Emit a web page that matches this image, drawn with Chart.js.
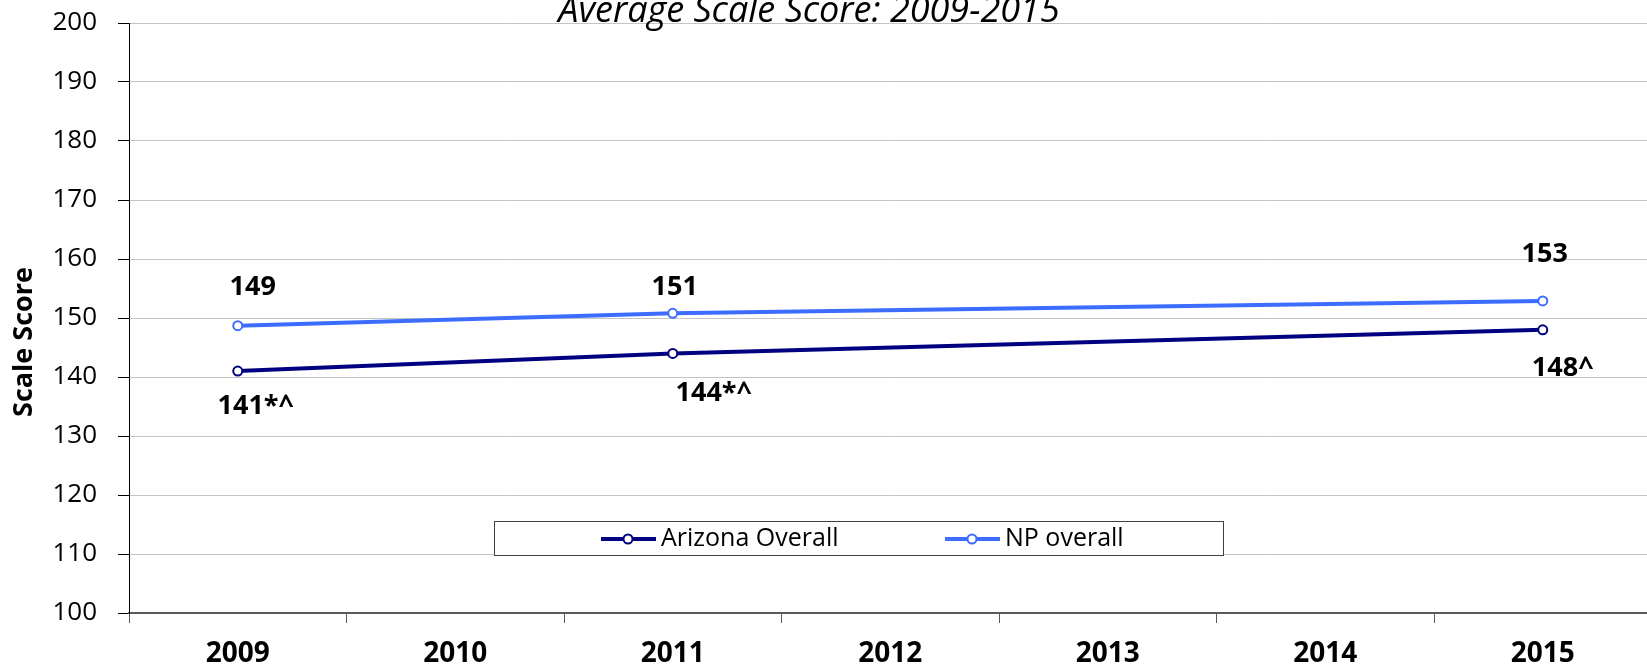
<!DOCTYPE html>
<html>
<head>
<meta charset="utf-8">
<script src="https://cdn.jsdelivr.net/npm/chart.js@4/dist/chart.umd.min.js"></script>
<style>
  html, body { margin: 0; padding: 0; background: #fff; overflow: hidden; }
  #wrap { width: 1658px; height: 667px; position: relative; }
</style>
</head>
<body>
<div id="wrap"><canvas id="scoreChart"></canvas></div>
<script>
var years = ['2009', '2010', '2011', '2012', '2013', '2014', '2015'];
var arizonaScores = [141, null, 144, null, null, null, 148];
var npScores = [148.7, null, 150.8, null, null, null, 152.9];
var arizonaLabels = ['141*^', null, '144*^', null, null, null, '148^'];
var npLabels = ['149', null, '151', null, null, null, '153'];
var yTicks = { min: 100, max: 200, step: 10 };

var FONT = '"Open Sans", "Liberation Sans", sans-serif';

// label nudges (px), like the hand-placed Excel labels
var labelNudge = [
  [[18, 35], null, [41, 40], null, null, null, [20, 39]],
  [[15, -38], null, [2, -26], null, null, null, [2, -47]]
];

var extras = {
  id: 'extras',
  afterDatasetsDraw: function (chart) {
    var ctx = chart.ctx;
    ctx.save();
    ctx.fillStyle = '#000';
    ctx.font = 'bold 27px ' + FONT;
    ctx.textAlign = 'center';
    ctx.textBaseline = 'middle';
    chart.data.datasets.forEach(function (ds, di) {
      var meta = chart.getDatasetMeta(di);
      ds.pointLabels.forEach(function (txt, i) {
        if (!txt) return;
        var pt = meta.data[i];
        var n = labelNudge[di][i];
        ctx.fillText(txt, pt.x + n[0], pt.y + n[1]);
      });
    });
    ctx.restore();
  },
  afterDraw: function (chart) {
    var ctx = chart.ctx;
    ctx.save();

    // title, partly cut at top like the original
    ctx.fillStyle = '#000';
    ctx.font = 'italic 36px ' + FONT;
    ctx.textAlign = 'center';
    ctx.textBaseline = 'alphabetic';
    ctx.fillText('Average Scale Score: 2009-2015', 809, 22);

    // y axis title
    ctx.save();
    ctx.translate(24, 342);
    ctx.rotate(-Math.PI / 2);
    ctx.font = 'bold 27px ' + FONT;
    ctx.textBaseline = 'middle';
    ctx.fillText('Scale Score', 0, 0);
    ctx.restore();

    // legend box inside plot
    ctx.fillStyle = '#fff';
    ctx.fillRect(494.5, 521.5, 729, 34);
    ctx.strokeStyle = '#404040';
    ctx.lineWidth = 1;
    ctx.strokeRect(494.5, 521.5, 729, 34);
    var starts = [601, 945];
    chart.data.datasets.forEach(function (ds, di) {
      var x0 = starts[di], y = 539;
      ctx.strokeStyle = ds.borderColor;
      ctx.lineWidth = 4;
      ctx.beginPath();
      ctx.moveTo(x0, y);
      ctx.lineTo(x0 + 55, y);
      ctx.stroke();
      ctx.beginPath();
      ctx.arc(x0 + 27, y, 4.5, 0, Math.PI * 2);
      ctx.fillStyle = '#fff';
      ctx.fill();
      ctx.lineWidth = 2;
      ctx.stroke();
      ctx.fillStyle = '#000';
      ctx.font = '25px ' + FONT;
      ctx.textAlign = 'left';
      ctx.textBaseline = 'middle';
      ctx.fillText(ds.label, x0 + 60, y);
    });
    ctx.restore();
  }
};

new Chart(document.getElementById('scoreChart'), {
  type: 'line',
  data: {
    labels: years,
    datasets: [{
      label: 'Arizona Overall',
      data: arizonaScores,
      pointLabels: arizonaLabels,
      borderColor: '#000080',
      borderWidth: 4,
      pointBackgroundColor: '#fff',
      pointBorderColor: '#000080',
      pointBorderWidth: 2,
      pointRadius: 4.5,
      spanGaps: true,
      tension: 0
    }, {
      label: 'NP overall',
      data: npScores,
      pointLabels: npLabels,
      borderColor: '#3d6dff',
      borderWidth: 4,
      pointBackgroundColor: '#fff',
      pointBorderColor: '#3d6dff',
      pointBorderWidth: 2,
      pointRadius: 4.5,
      spanGaps: true,
      tension: 0
    }]
  },
  options: {
    responsive: true,
    maintainAspectRatio: false,
    animation: false,
    layout: { padding: { top: 23, right: 0, left: 0, bottom: 0 } },
    plugins: { legend: { display: false }, tooltip: { enabled: false } },
    scales: {
      x: {
        offset: true,
        grid: { offset: true, drawOnChartArea: false, tickLength: 10, tickColor: '#595959' },
        border: { color: '#595959', width: 2 },
        ticks: { color: '#000', font: { family: FONT, size: 28, weight: 'bold' }, padding: 14, maxRotation: 0 },
        afterFit: function (s) { s.height = 54; s.paddingLeft = 0; s.paddingRight = 0; }
      },
      y: {
        min: yTicks.min,
        max: yTicks.max,
        ticks: { stepSize: yTicks.step, color: '#000', font: { family: FONT, size: 26 }, padding: 21 },
        grid: { color: '#c4c4c4', tickColor: '#000', tickLength: 11 },
        border: { color: '#000', width: 1 },
        afterFit: function (s) { s.width = 129; s.paddingTop = 0; s.paddingBottom = 0; }
      }
    }
  },
  plugins: [extras]
});
</script>
</body>
</html>
